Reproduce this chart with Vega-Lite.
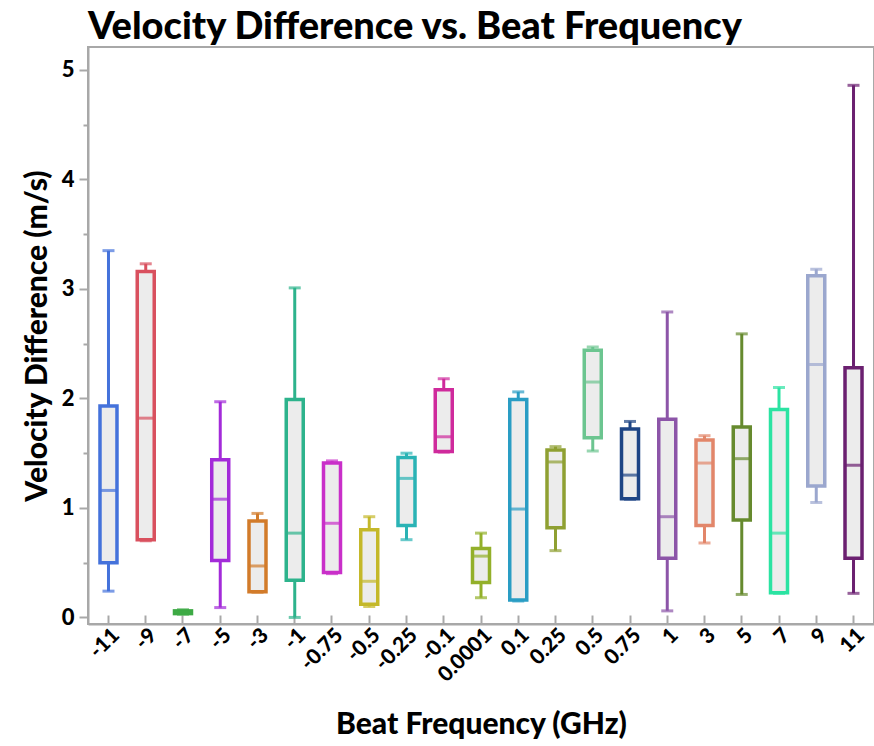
{
  "$schema": "https://vega.github.io/schema/vega-lite/v6.json",
  "width": 786,
  "height": 577,
  "autosize": {"type": "none"},
  "padding": {"left": 88, "top": 47, "right": 0, "bottom": 122},
  "background": "white",
  "title": {
    "text": "Velocity Difference vs. Beat Frequency",
    "anchor": "start",
    "frame": "group",
    "font": "Lato",
    "fontSize": 38,
    "fontWeight": 900,
    "color": "black",
    "offset": 0
  },
  "config": {
    "view": {"stroke": "#a8a8a8", "strokeWidth": 2},
    "axis": {
      "labelFont": "Lato",
      "titleFont": "Lato",
      "labelFontWeight": 900,
      "titleFontWeight": 900,
      "labelColor": "black",
      "titleColor": "black",
      "domainColor": "#a8a8a8",
      "domainWidth": 2,
      "tickColor": "#a8a8a8",
      "tickWidth": 2,
      "grid": false
    }
  },
  "data": {
    "values": [
      {"f": "-11", "lo": 0.24, "q1": 0.50, "med": 1.16, "q3": 1.93, "hi": 3.35},
      {"f": "-9", "lo": 0.70, "q1": 0.71, "med": 1.82, "q3": 3.16, "hi": 3.23},
      {"f": "-7", "lo": 0.03, "q1": 0.035, "med": 0.05, "q3": 0.06, "hi": 0.07},
      {"f": "-5", "lo": 0.09, "q1": 0.52, "med": 1.08, "q3": 1.44, "hi": 1.97},
      {"f": "-3", "lo": 0.23, "q1": 0.235, "med": 0.47, "q3": 0.88, "hi": 0.95},
      {"f": "-1", "lo": 0.0, "q1": 0.34, "med": 0.77, "q3": 1.99, "hi": 3.01},
      {"f": "-0.75", "lo": 0.40, "q1": 0.41, "med": 0.86, "q3": 1.41, "hi": 1.43},
      {"f": "-0.5", "lo": 0.10, "q1": 0.12, "med": 0.33, "q3": 0.80, "hi": 0.92},
      {"f": "-0.25", "lo": 0.71, "q1": 0.84, "med": 1.27, "q3": 1.46, "hi": 1.50},
      {"f": "-0.1", "lo": 1.51, "q1": 1.515, "med": 1.65, "q3": 2.08, "hi": 2.18},
      {"f": "0.0001", "lo": 0.18, "q1": 0.32, "med": 0.56, "q3": 0.63, "hi": 0.77},
      {"f": "0.1", "lo": 0.15, "q1": 0.16, "med": 0.99, "q3": 1.99, "hi": 2.06},
      {"f": "0.25", "lo": 0.61, "q1": 0.82, "med": 1.42, "q3": 1.53, "hi": 1.56},
      {"f": "0.5", "lo": 1.52, "q1": 1.64, "med": 2.15, "q3": 2.44, "hi": 2.47},
      {"f": "0.75", "lo": 1.08, "q1": 1.085, "med": 1.30, "q3": 1.72, "hi": 1.79},
      {"f": "1", "lo": 0.06, "q1": 0.54, "med": 0.92, "q3": 1.81, "hi": 2.79},
      {"f": "3", "lo": 0.68, "q1": 0.84, "med": 1.41, "q3": 1.62, "hi": 1.66},
      {"f": "5", "lo": 0.21, "q1": 0.89, "med": 1.45, "q3": 1.74, "hi": 2.59},
      {"f": "7", "lo": 0.22, "q1": 0.225, "med": 0.77, "q3": 1.90, "hi": 2.10},
      {"f": "9", "lo": 1.05, "q1": 1.20, "med": 2.31, "q3": 3.12, "hi": 3.18},
      {"f": "11", "lo": 0.22, "q1": 0.54, "med": 1.39, "q3": 2.28, "hi": 4.86}
    ]
  },
  "encoding": {
    "x": {
      "field": "f",
      "type": "nominal",
      "sort": null,
      "scale": {"type": "band", "paddingInner": 0, "paddingOuter": 0.05},
      "axis": {
        "title": "Beat Frequency (GHz)",
        "titleFontSize": 30,
        "titlePadding": 24,
        "labelFontSize": 21,
        "labelAngle": -45,
        "tickSize": -9,
        "labelPadding": 9
      }
    },
    "color": {
      "field": "f",
      "type": "nominal",
      "sort": null,
      "legend": null,
      "scale": {
        "domain": ["-11", "-9", "-7", "-5", "-3", "-1", "-0.75", "-0.5", "-0.25", "-0.1", "0.0001", "0.1", "0.25", "0.5", "0.75", "1", "3", "5", "7", "9", "11"],
        "range": ["#4472DB", "#D9505E", "#3DAA45", "#A32BD9", "#D27B2A", "#2DB38C", "#C92FC9", "#C4B82A", "#2AB3B5", "#CF2A9C", "#93B02A", "#2A9DC4", "#8FA032", "#6CC590", "#1E4585", "#8C55A8", "#E2866A", "#668A2E", "#2BE3A2", "#9BA7CE", "#6B2070"]
      }
    }
  },
  "layer": [
    {
      "mark": {"type": "rule", "strokeWidth": 3},
      "encoding": {
        "y": {
          "field": "lo",
          "type": "quantitative",
          "scale": {"domain": [-0.06, 5.21], "nice": false, "zero": false},
          "axis": {
            "title": "Velocity Difference (m/s)",
            "titleFontSize": 30,
            "titlePadding": 9,
            "labelFontSize": 22,
            "values": [0, 0.5, 1, 1.5, 2, 2.5, 3, 3.5, 4, 4.5, 5],
            "labelExpr": "datum.value % 1 === 0 ? format(datum.value, 'd') : ''",
            "tickSize": {"condition": {"test": "datum.value % 1 !== 0", "value": 5}, "value": 9},
            "labelPadding": 5
          }
        },
        "y2": {"field": "hi"}
      }
    },
    {
      "mark": {"type": "tick", "size": 12, "thickness": 3, "orient": "horizontal"},
      "encoding": {"y": {"field": "lo", "type": "quantitative"}}
    },
    {
      "mark": {"type": "tick", "size": 12, "thickness": 3, "orient": "horizontal"},
      "encoding": {"y": {"field": "hi", "type": "quantitative"}}
    },
    {
      "mark": {"type": "bar", "width": 17, "fill": "#ececec", "strokeWidth": 3.5},
      "encoding": {
        "y": {"field": "q1", "type": "quantitative"},
        "y2": {"field": "q3"},
        "stroke": {"field": "f", "type": "nominal", "sort": null, "legend": null, "scale": {
          "domain": ["-11", "-9", "-7", "-5", "-3", "-1", "-0.75", "-0.5", "-0.25", "-0.1", "0.0001", "0.1", "0.25", "0.5", "0.75", "1", "3", "5", "7", "9", "11"],
          "range": ["#4472DB", "#D9505E", "#3DAA45", "#A32BD9", "#D27B2A", "#2DB38C", "#C92FC9", "#C4B82A", "#2AB3B5", "#CF2A9C", "#93B02A", "#2A9DC4", "#8FA032", "#6CC590", "#1E4585", "#8C55A8", "#E2866A", "#668A2E", "#2BE3A2", "#9BA7CE", "#6B2070"]
        }}
      }
    },
    {
      "mark": {"type": "tick", "size": 17, "thickness": 3, "orient": "horizontal"},
      "encoding": {"y": {"field": "med", "type": "quantitative"}}
    }
  ]
}
